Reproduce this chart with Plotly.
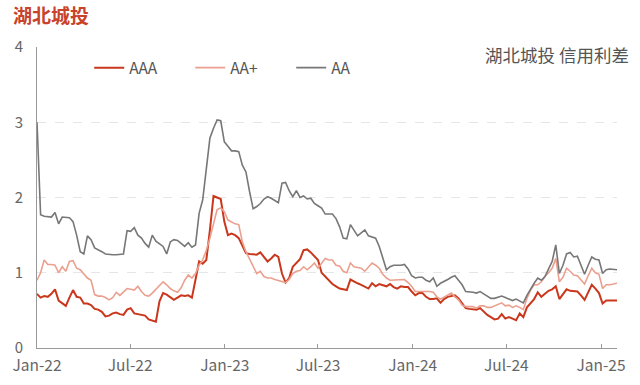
import pandas as pd
import plotly.graph_objects as go

start_date = "2022-01-01"
n_weeks = 162

aaa = [0.72, 0.67, 0.69, 0.68, 0.72, 0.78, 0.63, 0.59, 0.56, 0.67,
       0.77, 0.68, 0.67, 0.59, 0.59, 0.57, 0.52, 0.51, 0.48, 0.42,
       0.43, 0.46, 0.47, 0.45, 0.44, 0.51, 0.53, 0.46, 0.45, 0.45,
       0.43, 0.38, 0.37, 0.35, 0.62, 0.73, 0.71, 0.68, 0.64, 0.67,
       0.70, 0.69, 0.70, 0.67, 0.90, 1.15, 1.12, 1.17, 1.57, 2.02,
       2.00, 1.98, 1.68, 1.50, 1.52, 1.50, 1.46, 1.35, 1.26, 1.25,
       1.24, 1.24, 1.27, 1.21, 1.15, 1.19, 1.24, 1.21, 0.99, 0.87,
       0.93, 1.08, 1.13, 1.18, 1.30, 1.31, 1.27, 1.22, 1.17, 1.00,
       0.95, 0.90, 0.85, 0.82, 0.79, 0.78, 0.77, 0.91, 0.88, 0.86,
       0.84, 0.82, 0.79, 0.86, 0.82, 0.85, 0.84, 0.82, 0.85, 0.81,
       0.79, 0.82, 0.81, 0.81, 0.75, 0.70, 0.73, 0.73, 0.68, 0.65,
       0.65, 0.66, 0.60, 0.65, 0.68, 0.69, 0.70, 0.66, 0.60, 0.53,
       0.52, 0.51, 0.51, 0.53, 0.48, 0.44, 0.41, 0.38, 0.39, 0.45,
       0.39, 0.41, 0.39, 0.37, 0.46, 0.41, 0.54, 0.60, 0.65, 0.74,
       0.68, 0.72, 0.76, 0.78, 0.82, 0.65, 0.72, 0.78, 0.76, 0.75,
       0.75, 0.70, 0.64, 0.74, 0.84, 0.79, 0.73, 0.59, 0.63, 0.63,
       0.63, 0.63]

aa_plus = [0.90, 1.00, 1.17, 1.11, 1.11, 1.10, 1.00, 1.08, 1.02, 1.15,
           1.16, 1.06, 1.04, 0.99, 0.93, 0.90, 0.71, 0.69, 0.69, 0.67,
           0.64, 0.67, 0.74, 0.70, 0.74, 0.79, 0.78, 0.77, 0.82, 0.75,
           0.70, 0.69, 0.73, 0.78, 0.82, 0.88, 0.84, 0.79, 0.76, 0.74,
           0.80, 0.90, 0.97, 0.93, 0.99, 1.10, 1.17, 1.30, 1.46, 1.66,
           1.84, 1.86, 1.81, 1.70, 1.67, 1.65, 1.64, 1.41, 1.28, 1.19,
           1.08, 0.99, 1.02, 0.95, 0.93, 0.93, 0.91, 0.90, 0.88, 0.87,
           0.91, 0.99, 1.02, 1.03, 1.08, 1.04, 1.08, 1.13, 1.06, 1.13,
           1.19, 1.17, 1.17, 1.10, 1.09, 1.02, 1.00, 1.13, 1.08, 1.07,
           1.06, 1.02, 1.08, 1.13, 1.10, 1.06, 0.98, 0.93, 0.90, 0.90,
           0.90, 0.91, 0.91, 0.87, 0.82, 0.75, 0.75, 0.75, 0.76, 0.75,
           0.74, 0.68, 0.65, 0.68, 0.70, 0.73, 0.68, 0.64, 0.57, 0.55,
           0.55, 0.55, 0.53, 0.56, 0.56, 0.54, 0.54, 0.56, 0.57, 0.60,
           0.56, 0.57, 0.54, 0.56, 0.54, 0.51, 0.66, 0.77, 0.84, 0.84,
           0.88, 0.95, 1.00, 1.06, 1.19, 0.88, 0.94, 1.06, 1.02, 0.97,
           0.96, 0.90, 0.85, 0.96, 1.06, 1.00, 0.98, 0.79, 0.84, 0.84,
           0.85, 0.86]

aa = [3.00, 1.77, 1.75, 1.74, 1.74, 1.80, 1.65, 1.74, 1.73, 1.73,
      1.68, 1.50, 1.28, 1.25, 1.49, 1.44, 1.33, 1.31, 1.28, 1.25,
      1.24, 1.24, 1.24, 1.24, 1.25, 1.56, 1.55, 1.60, 1.50, 1.46,
      1.39, 1.34, 1.50, 1.42, 1.38, 1.35, 1.25, 1.41, 1.44, 1.43,
      1.39, 1.35, 1.40, 1.34, 1.37, 1.79, 1.97, 2.37, 2.79, 2.92,
      3.03, 3.02, 2.74, 2.68, 2.62, 2.62, 2.61, 2.43, 2.34, 2.08,
      1.85, 1.88, 1.92, 1.98, 2.01, 1.99, 1.96, 1.93, 2.19, 2.20,
      2.09, 2.01, 2.09, 2.00, 2.02, 1.98, 1.99, 1.92, 1.89, 1.86,
      1.78, 1.78, 1.78, 1.72, 1.61, 1.46, 1.45, 1.64, 1.57, 1.49,
      1.53, 1.57, 1.49, 1.48, 1.46, 1.35, 1.19, 1.04, 1.08, 1.10,
      1.10, 1.10, 1.11, 1.05, 0.96, 0.93, 0.94, 0.94, 0.90, 0.88,
      0.93, 0.82, 0.86, 0.88, 0.91, 0.94, 0.96, 0.90, 0.84, 0.75,
      0.74, 0.74, 0.73, 0.75, 0.72, 0.69, 0.66, 0.66, 0.67, 0.69,
      0.67, 0.65, 0.63, 0.65, 0.63, 0.60, 0.70, 0.79, 0.86, 0.93,
      0.90, 0.95, 1.05, 1.15, 1.37, 0.99, 1.10, 1.25, 1.27, 1.21,
      1.22, 1.10, 0.98, 1.10, 1.21, 1.18, 1.17, 0.99, 1.04, 1.05,
      1.05, 1.04]

tick_vals = ["2022-01-01", "2022-07-01", "2023-01-01", "2023-07-01",
             "2024-01-01", "2024-07-01", "2025-01-01"]
tick_text = ["Jan-22", "Jul-22", "Jan-23", "Jul-23", "Jan-24", "Jul-24", "Jan-25"]

dates = pd.date_range(start_date, periods=n_weeks, freq="7D")

FONT = "Noto Sans CJK SC"
fig = go.Figure()
fig.add_trace(go.Scatter(x=dates, y=aaa, name="AAA", mode="lines",
                         line=dict(color="#C9381D", width=2)))
fig.add_trace(go.Scatter(x=dates, y=aa_plus, name="AA+", mode="lines",
                         line=dict(color="#EBA08F", width=1.6)))
fig.add_trace(go.Scatter(x=dates, y=aa, name="AA", mode="lines",
                         line=dict(color="#777777", width=1.6)))

fig.update_layout(
    width=640, height=385,
    margin=dict(l=37, r=23, t=47, b=37, autoexpand=False),
    paper_bgcolor="white", plot_bgcolor="white",
    font=dict(family=FONT, color="#666666", size=15),
    showlegend=True,
    legend=dict(orientation="h", x=0.09, y=0.93, xanchor="left", yanchor="middle",
                font=dict(size=15.5, color="#555555"), bgcolor="rgba(0,0,0,0)",
                entrywidth=56, itemwidth=30, tracegroupgap=0),
    xaxis=dict(range=[dates[0], dates[-1]], tickvals=tick_vals, ticktext=tick_text,
               showgrid=False, showline=True, linecolor="#999999", linewidth=1,
               ticks="inside", ticklen=4, tickcolor="#999999", ticklabelstandoff=3,
               tickfont=dict(size=15.5, color="#666666"), zeroline=False),
    yaxis=dict(range=[0, 4], dtick=1, showgrid=True, gridcolor="#E6E6E6",
               griddash="dash", gridwidth=1, showline=True, linecolor="#999999",
               linewidth=1, zeroline=False, ticks="outside", ticklen=10,
               tickcolor="rgba(0,0,0,0)",
               tickfont=dict(size=15, color="#666666")),
)

fig.add_annotation(text="<b>湖北城投</b>", xref="paper", yref="paper",
                   x=(11 - 37) / 580, y=(348 - 14) / 301, xanchor="left", yanchor="middle",
                   showarrow=False, font=dict(size=19, color="#C8432A", family=FONT))
fig.add_annotation(text="湖北城投 信用利差", xref="paper", yref="paper",
                   x=(631 - 37) / 580, y=(348 - 55) / 301, xanchor="right", yanchor="middle",
                   showarrow=False, font=dict(size=17.5, color="#555555", family=FONT))

fig.write_html("out.html", config={"displayModeBar": False},
               post_script="document.body.style.margin='0px';")
